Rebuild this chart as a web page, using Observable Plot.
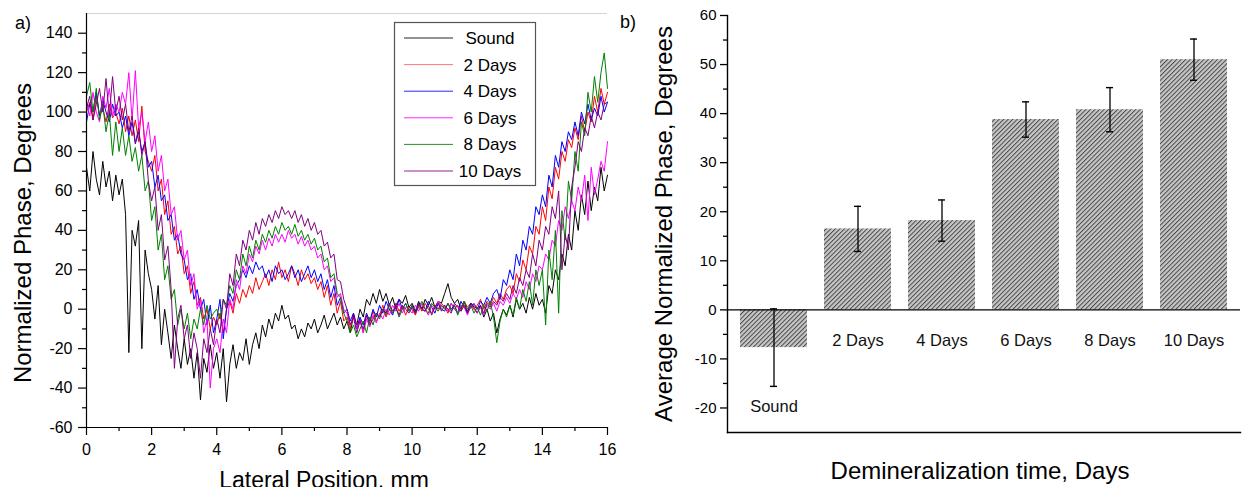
<!DOCTYPE html>
<html><head><meta charset="utf-8">
<script src="https://cdn.jsdelivr.net/npm/d3@7"></script>
<script src="https://cdn.jsdelivr.net/npm/@observablehq/plot@0.6"></script>
<style>
html,body{margin:0;padding:0;background:#fff;overflow:hidden;}
#wrap{position:relative;width:1246px;height:487px;overflow:hidden;font-family:"Liberation Sans",Arial,sans-serif;background:#fff;}
#wrap > svg{position:absolute;top:0;}
</style></head><body><div id="wrap"></div>
<script>
// ---------- Panel a) data: lateral phase profiles (sampled every 0.1 mm) ----------
const positions = d3.range(161).map(i => +(i * 0.1).toFixed(1));
const seriesNames = ["Sound", "2 Days", "4 Days", "6 Days", "8 Days", "10 Days"];
const seriesColors = ["#000000", "#ff0000", "#0000ff", "#ff00ff", "#008000", "#800080"];

const sound = [
72,60,80,66,58,75,62,70,55,68,
58,66,48,-22,40,32,45,-20,30,18,
10,-5,12,-18,0,-12,-25,-8,-20,-30,
-15,-28,-20,-35,-22,-46,-25,-32,-18,-30,
-22,-35,-20,-47,-28,-18,-30,-22,-26,-15,
-28,-18,-12,-20,-8,-14,-5,-10,-2,-6,
2,-5,-3,-10,-8,-15,-10,-14,-7,-10,
-5,-12,-8,-3,-10,-6,-2,-8,-4,-10,
-6,-12,-3,-8,0,-4,5,2,8,3,
10,4,8,2,6,0,5,3,7,1,
3,-1,4,0,5,2,6,1,4,3,
8,13,6,3,5,0,4,-2,3,1,
-2,2,-4,0,-6,-2,-12,-5,0,-3,
2,-4,5,0,3,-2,6,0,8,2,
5,-2,12,8,20,15,28,22,38,30,
50,40,58,48,65,50,62,55,72,60,
68];
const days2 = [
100,105,96,108,98,102,95,104,97,100,
94,102,90,98,88,96,85,103,80,75,
70,78,60,66,48,55,38,42,28,32,
18,22,8,14,2,6,-5,0,-10,-4,
-8,-2,-12,0,4,-2,8,3,10,6,
12,8,16,10,14,18,12,20,15,24,
16,20,14,22,18,12,20,15,18,13,
16,10,14,6,12,2,8,-2,4,-6,
-4,-10,-2,-8,-5,-12,-3,-7,-1,-6,
-3,2,-4,0,-2,3,-1,2,-3,1,
0,-3,2,-1,3,0,-2,2,0,3,
1,-2,3,0,2,-1,4,1,3,0,
2,5,0,4,2,6,3,8,5,10,
12,8,18,14,25,20,32,28,42,38,
52,45,62,56,72,66,80,75,86,82,
92,86,98,90,100,95,108,100,112,104,
110];
const days4 = [
95,104,100,110,98,106,100,95,104,98,
100,92,98,88,95,84,90,80,85,72,
75,62,68,55,58,45,48,35,38,28,
25,15,18,5,10,0,5,-8,2,-12,
-5,5,-15,0,8,4,12,15,20,16,
22,18,24,20,22,16,20,14,22,18,
20,15,18,22,16,20,14,18,22,16,
20,14,18,10,15,6,12,2,6,-2,
0,-6,-2,-10,-4,-8,-2,-6,0,-4,
2,-2,4,0,-3,2,5,0,3,-1,
2,-2,3,0,-1,4,1,-2,3,0,
-1,3,0,2,-2,4,1,-1,3,2,
0,4,2,6,3,8,10,5,15,12,
20,15,28,22,35,30,42,38,52,48,
58,52,68,62,78,72,85,80,90,86,
95,88,100,94,104,96,102,98,108,100,
105];
const days6 = [
105,98,110,100,95,108,102,112,98,104,
100,110,104,120,96,121,92,100,85,95,
80,88,70,78,60,66,48,52,35,40,
25,30,12,18,0,5,-12,-5,-40,-20,
-15,-22,-5,-12,5,0,15,10,22,18,
28,24,32,28,35,30,36,32,38,34,
38,34,40,36,38,33,37,32,35,30,
32,26,28,20,22,14,16,6,8,0,
-2,-8,-4,-10,-6,-12,-5,-9,-3,-7,
-2,-5,0,-3,2,-1,3,-2,1,0,
-2,2,-1,3,0,-3,2,0,4,1,
2,-1,3,0,-2,2,1,-3,2,0,
-2,1,-3,2,0,3,-1,4,2,6,
3,8,5,10,6,14,10,18,14,22,
20,28,25,35,32,45,40,52,46,55,
50,62,55,68,45,72,58,66,75,70,
85];
const days8 = [
108,115,100,112,96,104,90,100,78,95,
80,92,78,88,75,82,70,78,60,65,
45,52,30,38,15,22,5,10,-8,0,
-10,-2,-15,-5,-10,0,-8,2,-5,-2,
0,-5,5,2,12,8,20,15,28,22,
32,26,35,30,38,34,40,36,42,38,
44,40,42,38,43,37,40,35,38,33,
36,30,32,24,26,16,18,8,6,-2,
-6,-12,-8,-14,-10,-6,-12,-4,-8,-2,
-5,0,-3,2,-2,1,-4,0,3,-1,
2,-2,1,4,0,-2,3,1,-1,2,
0,3,-1,2,-3,1,4,0,2,-2,
1,-3,2,-1,4,-4,-17,-6,0,-4,
2,-3,6,0,10,4,14,2,20,12,
20,-8,30,15,40,-2,50,35,65,55,
80,70,95,88,110,100,118,105,120,130,
112];
const days10 = [
102,108,96,104,112,100,117,98,118,100,
108,96,104,90,98,84,92,78,85,65,
55,62,40,48,25,32,10,-30,-5,2,
-15,-8,-25,-12,-20,-35,-15,-22,-10,-18,
-5,-12,5,0,18,12,28,22,35,30,
40,35,44,38,46,42,48,44,50,46,
52,48,50,46,50,44,48,42,46,40,
44,38,40,32,34,26,28,15,14,5,
0,-8,-4,-12,-6,-10,-3,-8,-5,-2,
-4,0,-2,3,-1,1,-3,2,0,-2,
1,-2,3,0,-1,2,-3,1,3,-1,
2,0,-2,3,1,-1,2,-2,1,3,
0,2,-2,3,1,4,2,6,4,8,
5,12,8,16,12,20,16,28,22,35,
30,42,38,52,46,60,20,38,30,62,
72,85,80,92,88,98,92,100,96,104,
105];
const seriesValues = [sound, days2, days4, days6, days8, days10];

const xTicksMajor = [0, 2, 4, 6, 8, 10, 12, 14, 16];
const xTicksMinor = [1, 3, 5, 7, 9, 11, 13, 15];
const yTicksMajor = [-60, -40, -20, 0, 20, 40, 60, 80, 100, 120, 140];
const yTicksMinor = [-50, -30, -10, 10, 30, 50, 70, 90, 110, 130];

// ---------- Panel b) data: average normalized phase ----------
const categories = ["Sound", "2 Days", "4 Days", "6 Days", "8 Days", "10 Days"];
const means = [-7.7, 16.5, 18.2, 38.8, 40.8, 51.0];
const errors = [7.9, 4.6, 4.2, 3.6, 4.5, 4.2];
const yTicksMajorB = [-20, -10, 0, 10, 20, 30, 40, 50, 60];
const yTicksMinorB = [-15, -5, 5, 15, 25, 35, 45, 55];

const FONT = "'Liberation Sans', Arial, sans-serif";
const wrap = document.getElementById("wrap");

// ---------- Left chart ----------
const lineData = [];
seriesNames.forEach((name, k) => seriesValues[k].forEach((v, i) => lineData.push({x: positions[i], y: v, s: name})));

const left = Plot.plot({
  width: 620, height: 487,
  marginLeft: 86, marginRight: 13, marginTop: 13, marginBottom: 60,
  style: {fontFamily: FONT, fontSize: "16px", color: "#000", background: "transparent", overflow: "visible"},
  x: {domain: [0, 16]},
  y: {domain: [-60, 150]},
  color: {domain: seriesNames, range: seriesColors},
  marks: [
    Plot.ruleY([150], {stroke: "#d4d4d4", strokeWidth: 1}),
    Plot.lineY(lineData, {x: "x", y: "y", z: "s", stroke: "s", strokeWidth: 1}),
    Plot.ruleX([0], {stroke: "#000", strokeWidth: 1.2}),
    Plot.ruleY([-60], {stroke: "#000", strokeWidth: 1.2}),
    Plot.axisX({ticks: xTicksMajor, tickSize: 8, tickPadding: 8, label: null, tickFormat: d => String(d), strokeWidth: 1.2}),
    Plot.axisX({ticks: xTicksMinor, tickSize: 4, text: null, label: null, strokeWidth: 1.2}),
    Plot.axisY({ticks: yTicksMajor, tickSize: 8, tickPadding: 6, label: null, tickFormat: d => String(d), strokeWidth: 1.2}),
    Plot.axisY({ticks: yTicksMinor, tickSize: 4, text: null, label: null, strokeWidth: 1.2})
  ]
});
left.style.left = "0px";
wrap.appendChild(left);

// ---------- Right chart ----------
const barData = categories.map((c, i) => ({c, v: means[i], e: errors[i]}));
const right = Plot.plot({
  width: 626, height: 487,
  marginLeft: 107, marginRight: 6, marginTop: 15, marginBottom: 55,
  style: {fontFamily: FONT, fontSize: "15px", color: "#000", background: "transparent", overflow: "visible"},
  x: {domain: categories, paddingInner: 0.2, paddingOuter: 0.13, axis: null},
  y: {domain: [-25, 60]},
  marks: [
    Plot.barY(barData, {x: "c", y: "v", fill: "url(#hatch)"}),
    Plot.ruleY([0], {stroke: "#000", strokeWidth: 1.3}),
    Plot.ruleX(barData, {x: "c", y1: d => d.v - d.e, y2: d => d.v + d.e, stroke: "#000", strokeWidth: 1.3}),
    Plot.tickY(barData, {x: "c", y: d => d.v + d.e, insetLeft: 30, insetRight: 30, stroke: "#000", strokeWidth: 1.4}),
    Plot.tickY(barData, {x: "c", y: d => d.v - d.e, insetLeft: 30, insetRight: 30, stroke: "#000", strokeWidth: 1.4}),
    Plot.text(barData, {x: "c", y: d => d.v >= 0 ? -6.3 : d.v - 12.1, text: "c", fontSize: 16.5, fill: "#111"}),
    Plot.frame({anchor: "left", stroke: "#000", strokeWidth: 1.4}),
    Plot.frame({anchor: "bottom", stroke: "#000", strokeWidth: 1.4}),
    Plot.axisY({ticks: yTicksMajorB, tickSize: 7, tickPadding: 4, label: null, tickFormat: d => String(d), strokeWidth: 1.3}),
    Plot.axisY({ticks: yTicksMinorB, tickSize: 4, text: null, label: null, strokeWidth: 1.3})
  ]
});
const NS = "http://www.w3.org/2000/svg";
const defs = document.createElementNS(NS, "defs");
const pat = document.createElementNS(NS, "pattern");
pat.setAttribute("id", "hatch");
pat.setAttribute("patternUnits", "userSpaceOnUse");
pat.setAttribute("width", "3.2");
pat.setAttribute("height", "3.2");
pat.setAttribute("patternTransform", "rotate(45)");
const bg = document.createElementNS(NS, "rect");
bg.setAttribute("width", "3.2"); bg.setAttribute("height", "3.2"); bg.setAttribute("fill", "#c6c6c6");
const hl = document.createElementNS(NS, "line");
hl.setAttribute("x1", "0.5"); hl.setAttribute("y1", "0"); hl.setAttribute("x2", "0.5"); hl.setAttribute("y2", "3.2");
hl.setAttribute("stroke", "#3c3c3c"); hl.setAttribute("stroke-width", "0.9");
pat.appendChild(bg); pat.appendChild(hl); defs.appendChild(pat);
right.insertBefore(defs, right.firstChild);
right.style.left = "620px";
wrap.appendChild(right);

// ---------- Overlay: panel letters, axis titles, legend ----------
const ov = document.createElementNS(NS, "svg");
ov.setAttribute("width", "1246"); ov.setAttribute("height", "487");
ov.style.left = "0px";
ov.setAttribute("font-family", FONT);
function txt(str, attrs) {
  const t = document.createElementNS(NS, "text");
  for (const k in attrs) t.setAttribute(k, attrs[k]);
  t.textContent = str;
  ov.appendChild(t);
  return t;
}
txt("a)", {x: 15, y: 29, "font-size": 18, fill: "#000"});
txt("b)", {x: 620, y: 28, "font-size": 18, fill: "#000"});
txt("Normalized Phase, Degrees", {transform: "translate(31,233) rotate(-90)", "text-anchor": "middle", "font-size": 24, fill: "#000"});
txt("Average Normalized Phase, Degrees", {transform: "translate(672,224) rotate(-90)", "text-anchor": "middle", "font-size": 24, fill: "#000"});
txt("Lateral Position, mm", {x: 324, y: 488, "text-anchor": "middle", "font-size": 23, fill: "#000"});
txt("Demineralization time, Days", {x: 980, y: 479, "text-anchor": "middle", "font-size": 24, fill: "#000"});

// legend
const box = document.createElementNS(NS, "rect");
box.setAttribute("x", 394.5); box.setAttribute("y", 22.5);
box.setAttribute("width", 141); box.setAttribute("height", 163);
box.setAttribute("fill", "#fff"); box.setAttribute("stroke", "#555"); box.setAttribute("stroke-width", 1.2);
ov.appendChild(box);
seriesNames.forEach((name, k) => {
  const cy = 38 + k * 26.6;
  const ln = document.createElementNS(NS, "line");
  ln.setAttribute("x1", 404); ln.setAttribute("x2", 453);
  ln.setAttribute("y1", cy); ln.setAttribute("y2", cy);
  ln.setAttribute("stroke", seriesColors[k]); ln.setAttribute("stroke-width", 1);
  ln.setAttribute("stroke-opacity", k === 1 ? 0.55 : 0.85);
  ov.appendChild(ln);
  txt(name, {x: 490, y: cy, dy: "0.35em", "text-anchor": "middle", "font-size": 17, fill: "#000"});
});
wrap.appendChild(ov);
</script></body></html>
